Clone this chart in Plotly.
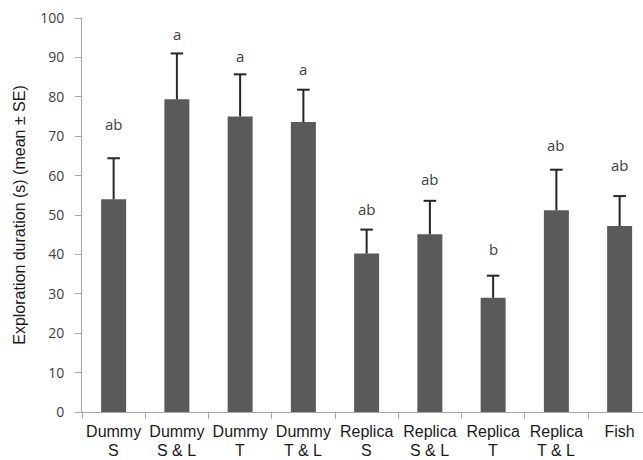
import plotly.graph_objects as go

# Treatment groups: stimulus type and its variant (second label line)
groups = ["Dummy", "Dummy", "Dummy", "Dummy",
          "Replica", "Replica", "Replica", "Replica", "Fish"]
variants = ["S", "S & L", "T", "T & L", "S", "S & L", "T", "T & L", ""]
categories = [f"{g} {v}".strip() for g, v in zip(groups, variants)]

# Mean exploration duration (s) and standard error
means = [54.0, 79.4, 75.0, 73.6, 40.2, 45.1, 29.0, 51.2, 47.2]
se = [10.4, 11.6, 10.7, 8.2, 6.1, 8.5, 5.6, 10.3, 7.6]
# Post-hoc group letters
letters = ["ab", "a", "a", "a", "ab", "ab", "b", "ab", "ab"]

# Vertical spacing (pixels) between each error-bar cap and its letter
letter_gap_px = [26, 11, 10, 13, 13, 14, 19, 17, 23]

W, H = 643, 460
M_L, M_R, M_T, M_B = 82, 0, 18, 48
Y_MAX = 100
px_per_unit = (H - M_T - M_B) / Y_MAX

text_color = "#404040"
label_color = "#1a1a1a"
axis_color = "#a6a6a6"
err_color = "#262626"

upper = [m + s for m, s in zip(means, se)]

fig = go.Figure()
fig.add_trace(go.Bar(
    x=categories,
    y=means,
    width=0.395,
    marker=dict(color="#5a5a5a", line=dict(width=0)),
    showlegend=False,
    hoverinfo="skip",
))
# Upper error stems (mean -> mean + SE), no caps
fig.add_trace(go.Scatter(
    x=categories, y=means, mode="markers",
    marker=dict(size=1, color="rgba(0,0,0,0)"),
    error_y=dict(
        type="data", array=se, arrayminus=[0] * len(se), symmetric=False,
        color=err_color, thickness=2, width=0,
    ),
    showlegend=False,
))
# Caps at mean + SE
fig.add_trace(go.Scatter(
    x=categories, y=upper, mode="markers",
    marker=dict(symbol="line-ew", size=9, line=dict(width=2, color=err_color)),
    showlegend=False,
))

# Significance letters above each error bar
for cat, u, lab, gap in zip(categories, upper, letters, letter_gap_px):
    fig.add_annotation(
        x=cat, y=u + gap / px_per_unit, text=lab, showarrow=False,
        yanchor="bottom", yshift=-4,
        font=dict(family="Open Sans", size=15, color=text_color),
    )

# Second line of each category label, set tight under the first line
for cat, v in zip(categories, variants):
    if v:
        fig.add_annotation(
            x=cat, y=0, yref="y", text=v, showarrow=False,
            yanchor="top", yshift=-29, borderpad=0,
            font=dict(family="Liberation Sans", size=16, color=label_color),
        )

fig.update_layout(
    width=W, height=H,
    margin=dict(l=M_L, r=M_R, t=M_T, b=M_B, pad=0, autoexpand=False),
    paper_bgcolor="white", plot_bgcolor="white",
    xaxis=dict(
        range=[-0.5, -0.5 + (W - M_L) / 63.25],
        tickmode="array", tickvals=categories, ticktext=groups,
        showline=True, linecolor=axis_color, linewidth=1,
        ticks="outside", tickson="boundaries", ticklen=6, tickcolor=axis_color,
        tickangle=0, automargin=False, ticklabelstandoff=5,
        tickfont=dict(family="Liberation Sans", size=16, color=label_color),
        showgrid=False, zeroline=False,
    ),
    yaxis=dict(
        range=[0, Y_MAX], dtick=10,
        showline=True, linecolor=axis_color, linewidth=1,
        ticks="outside", ticklen=6, tickcolor=axis_color,
        automargin=False, ticklabelstandoff=8,
        tickfont=dict(family="Open Sans", size=14, color=text_color),
        showgrid=False, zeroline=False,
        title=dict(
            text="Exploration duration (s) (mean ± SE)",
            font=dict(family="Liberation Sans", size=16, color=label_color),
            standoff=10,
        ),
    ),
)

fig.write_html("out.html")
